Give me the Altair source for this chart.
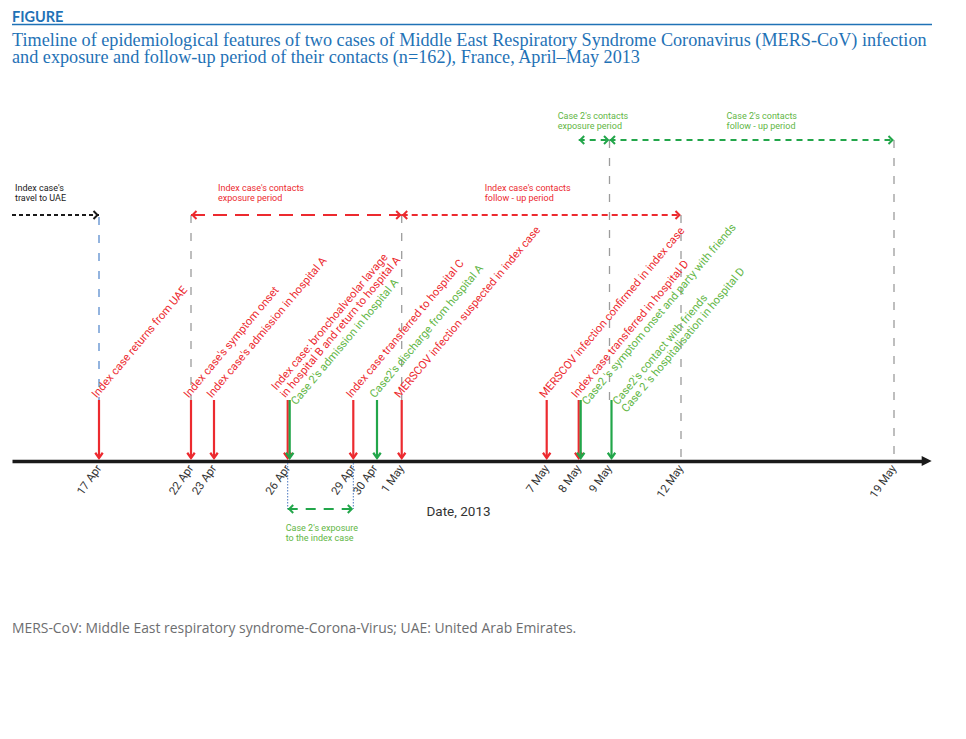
import altair as alt
import pandas as pd

# ---------------- data ----------------
tick_dates = ["2013-04-17", "2013-04-22", "2013-04-23", "2013-04-26", "2013-04-29", "2013-04-30",
              "2013-05-01", "2013-05-07", "2013-05-08", "2013-05-09", "2013-05-12", "2013-05-19"]

event_dates = ["2013-04-17", "2013-04-22", "2013-04-23", "2013-04-26", "2013-04-26", "2013-04-29",
               "2013-04-30", "2013-05-01", "2013-05-07", "2013-05-08", "2013-05-08", "2013-05-09"]
event_case = ["Index", "Index", "Index", "Index", "Case 2", "Index",
              "Case 2", "Index", "Index", "Index", "Case 2", "Case 2"]
event_labels = [
    "Index case returns from UAE",
    "Index case's symptom onset",
    "Index case's admission in hospital A",
    "Index case: bronchoalveolar lavage\nin hospital B and return to hospital A",
    "Case 2's admission in hospital A",
    "Index case transferred to hospital C",
    "Case2's discharge from hospital A",
    "MERSCOV infection suspected in index case",
    "MERSCOV infection confirmed in index case",
    "Index case transferred in hospital D",
    "Case2 's symptom onset and party with friends",
    "Case2's contact with friends\nCase 2 's hospitalisation in hospital D",
]

period_labels = [
    "Index case's\ntravel to UAE",
    "Index case's contacts\nexposure period",
    "Index case's contacts\nfollow - up period",
    "Case 2's contacts\nexposure period",
    "Case 2's contacts\nfollow - up period",
    "Case 2's exposure\nto the index case",
]
period_start = ["2013-04-13", "2013-04-22", "2013-05-01", "2013-05-08", "2013-05-09", "2013-04-26"]
period_end = ["2013-04-17", "2013-05-01", "2013-05-12", "2013-05-09", "2013-05-19", "2013-04-29"]

boundary_dates = ["2013-04-17", "2013-04-22", "2013-05-01", "2013-05-09", "2013-05-12", "2013-05-19"]
exposure_marks = ["2013-04-26", "2013-04-29"]

heading = "FIGURE"
title_lines = [
    "Timeline of epidemiological features of two cases of Middle East Respiratory Syndrome Coronavirus (MERS-CoV) infection",
    "and exposure and follow-up period of their contacts (n=162), France, April\u2013May 2013",
]
axis_title = "Date, 2013"
footnote = "MERS-CoV: Middle East respiratory syndrome-Corona-Virus; UAE: United Arab Emirates."

# ---------------- layout / style ----------------
W, H = 910, 453
REF = pd.Timestamp("2013-03-31")          # day numbers counted from 31 March 2013


def day(s):
    return int((pd.Timestamp(s) - REF).days)


DOMAIN_START, DOMAIN_END = "2013-04-13", "2013-05-20"
# the original timeline is schematic (not evenly spaced): piecewise linear scale
SCALE_DAYS = [day(DOMAIN_START)] + [day(d) for d in tick_dates] + [day(DOMAIN_END)]
SCALE_PX = [0, 87, 179, 202, 275.7, 341.3, 363, 389.7, 534.7, 566.7, 597.5, 669, 882, W]

RED = "#ec2a2f"
GREEN = "#22a64a"
GREEN_TEXT = "#62b645"
BLACK = "#1a1a1a"
GRAY = "#9c9c9c"
BLUE = "#1f72b6"
FONT = "Roboto"

LV_EVENT_TOP = 61
LV_TIP = 3
LV_LABEL = 62
LV_INDEX = 246
LV_CASE2 = 321
LV_BELOW = -48

EV_FS = 11.2
EV_LH = 11.5

# "over": text sits above the arrow top; "under": one line lower (stacked below a neighbour)
event_label_place = ["over"] * 12
for k in (4, 10, 11):
    event_label_place[k] = "under"

period_level = [LV_INDEX, LV_INDEX, LV_INDEX, LV_CASE2, LV_CASE2, LV_BELOW]
period_label_level = [273, 273, 273, 345.5, 345.5, -67]
period_label_dx = [3, 27, 83, -21, 117, -2]
period_color = [BLACK, RED, RED, GREEN, GREEN, GREEN]
period_text_color = [BLACK, RED, RED, GREEN_TEXT, GREEN_TEXT, GREEN_TEXT]
period_dash = [[4, 3], [14, 8], [6, 4], [6, 5], [6, 5], [10, 8]]
period_left_head = [False, True, True, True, True, True]

boundary_top = [244, 246, 246, 321, 246, 321]
boundary_bottom = [61, 61, 61, 61, 0, 0]
boundary_color = ["#93b4df", GRAY, GRAY, GRAY, GRAY, GRAY]
boundary_width = [2, 1.3, 1.3, 1.3, 1.3, 1.3]

DOWN = "M-1,-1.4L0,0L1,-1.4"
RIGHT = "M-1,-1L0,0L-1,1"
LEFT = "M1,-1L0,0L1,1"
TRI = "M-1,-1L1,0L-1,1Z"

XS = alt.Scale(type="linear", domain=SCALE_DAYS, range=SCALE_PX, nice=False, zero=False)
XA = alt.Axis(
    values=[day(d) for d in tick_dates],
    labelExpr="timeFormat(datetime(2013, 2, 31 + datum.value), '%-d %b')",
    labelAngle=305, labelAlign="right", labelBaseline="middle", labelPadding=5,
    labelFont=FONT, labelFontSize=11.5, labelColor="#333333",
    labelOverlap=False, labelFlush=False, ticks=False, grid=False,
    domainColor=BLACK, domainWidth=3.5,
    title=axis_title, titleX=446, titleY=50.5, titleAlign="center", titleBaseline="middle",
    titleAngle=0, titleFont=FONT, titleFontSize=13.5, titleFontWeight="normal", titleColor="#333333",
)
YS = alt.Scale(domain=[0, H], nice=False, zero=False)


def X(f):
    return alt.X(f"{f}:Q", scale=XS, axis=XA)


def Y(f):
    return alt.Y(f"{f}:Q", scale=YS, axis=None)


layers = []

# vertical boundary lines of the periods
bdf = pd.DataFrame({"d": [day(d) for d in boundary_dates]})
for i in range(len(boundary_dates)):
    layers.append(
        alt.Chart(bdf.iloc[[i]])
        .transform_calculate(top=str(boundary_top[i]), bot=str(boundary_bottom[i]))
        .mark_rule(color=boundary_color[i], strokeWidth=boundary_width[i], strokeDash=[8, 10])
        .encode(x=X("d"), y=Y("top"), y2=alt.Y2("bot"))
    )

# dotted marks below the axis (case 2 exposure to the index case)
edf = pd.DataFrame({"d": [day(d) for d in exposure_marks]})
layers.append(
    alt.Chart(edf)
    .transform_calculate(top="-2", bot=str(LV_BELOW))
    .mark_rule(color="#4a78c0", strokeWidth=1, strokeDash=[1.5, 1.5])
    .encode(x=X("d"), y=Y("top"), y2=alt.Y2("bot"))
)

# period arrows
for i in range(len(period_labels)):
    pdf = pd.DataFrame({"start": [day(period_start[i])], "end": [day(period_end[i])],
                        "label": [period_labels[i]]})
    base = alt.Chart(pdf).transform_calculate(lv=str(period_level[i]), tlv=str(period_label_level[i]))
    layers.append(
        base.mark_rule(color=period_color[i], strokeWidth=2.2, strokeDash=period_dash[i])
        .encode(x=X("start"), x2=alt.X2("end"), y=Y("lv"))
    )
    layers.append(
        base.mark_point(shape=RIGHT, filled=False, size=64, strokeWidth=2, opacity=1,
                        color=period_color[i], xOffset=-1.5)
        .encode(x=X("end"), y=Y("lv"))
    )
    if period_left_head[i]:
        layers.append(
            base.mark_point(shape=LEFT, filled=False, size=64, strokeWidth=2, opacity=1,
                            color=period_color[i], xOffset=1.5)
            .encode(x=X("start"), y=Y("lv"))
        )
    layers.append(
        base.mark_text(align="left", baseline="middle", lineBreak="\n", lineHeight=10.2,
                       font=FONT, fontSize=9, color=period_text_color[i], dx=period_label_dx[i])
        .encode(x=X("start"), y=Y("tlv"), text="label:N")
    )

# event arrows and labels
events = pd.DataFrame({"d": [day(d) for d in event_dates], "case": event_case,
                       "label": event_labels, "place": event_label_place})
is_multi = "indexof(datum.label, '\\n') >= 0"
label_variants = [
    # filter, baseline, dy (rotated frame)
    (f"datum.place == 'over' && !({is_multi})", "bottom", 0),
    (f"datum.place == 'over' && ({is_multi})", "alphabetic", -(EV_LH + 0.21 * EV_FS)),
    ("datum.place == 'under'", "top", 0),
]
for case, color, tcolor, xoff in [("Index", RED, RED, 0), ("Case 2", GREEN, GREEN_TEXT, 2)]:
    base = (alt.Chart(events)
            .transform_filter(alt.datum.case == case)
            .transform_calculate(top=str(LV_EVENT_TOP), tip=str(LV_TIP), lab=str(LV_LABEL)))
    layers.append(
        base.mark_rule(color=color, strokeWidth=2.2, xOffset=xoff)
        .encode(x=X("d"), y=Y("top"), y2=alt.Y2("tip"))
    )
    layers.append(
        base.mark_point(shape=DOWN, filled=False, size=56, strokeWidth=2.2, opacity=1,
                        color=color, xOffset=xoff)
        .encode(x=X("d"), y=Y("tip"))
    )
    for flt, baseline, dy in label_variants:
        layers.append(
            base.transform_filter(flt)
            .mark_text(angle=310, align="left", baseline=baseline, lineBreak="\n", lineHeight=EV_LH,
                       font=FONT, fontSize=EV_FS, color=tcolor, xOffset=xoff, dx=-1, dy=dy)
            .encode(x=X("d"), y=Y("lab"), text="label:N")
        )

# arrow head of the time axis
layers.append(
    alt.Chart(pd.DataFrame({"a": [0]}))
    .mark_point(shape=TRI, filled=True, size=100, color=BLACK, opacity=1)
    .encode(x=alt.value(914.7), y=alt.value(H))
)

# heading, title and footnote
layers.append(
    alt.Chart(pd.DataFrame({"t": [heading]}))
    .mark_text(align="left", baseline="alphabetic", font="Lato", fontWeight="bold", fontSize=14.5, color=BLUE)
    .encode(x=alt.value(0), y=alt.value(13.5), text="t:N")
)
layers.append(
    alt.Chart(pd.DataFrame({"a": [0]}))
    .mark_rule(color=BLUE, strokeWidth=1.5)
    .encode(x=alt.value(0), x2=alt.value(920), y=alt.value(16.5))
)
for k, line in enumerate(title_lines):
    layers.append(
        alt.Chart(pd.DataFrame({"t": [line]}))
        .mark_text(align="left", baseline="alphabetic", font="Liberation Serif", fontSize=18.2, color=BLUE)
        .encode(x=alt.value(0), y=alt.value(37.5 + 17.5 * k), text="t:N")
    )
layers.append(
    alt.Chart(pd.DataFrame({"t": [footnote]}))
    .mark_text(align="left", baseline="alphabetic", font="Open Sans", fontSize=13.9, color="#6d6e70")
    .encode(x=alt.value(0), y=alt.value(625), text="t:N")
)

chart = (
    alt.layer(*layers)
    .properties(width=W, height=H, autosize=alt.AutoSizeParams(type="none"),
                padding={"left": 4, "top": 0, "right": 36, "bottom": 278}, background="white")
    .configure_view(stroke=None)
)

chart.save("out.html", embed_options={"renderer": "svg", "actions": False})
